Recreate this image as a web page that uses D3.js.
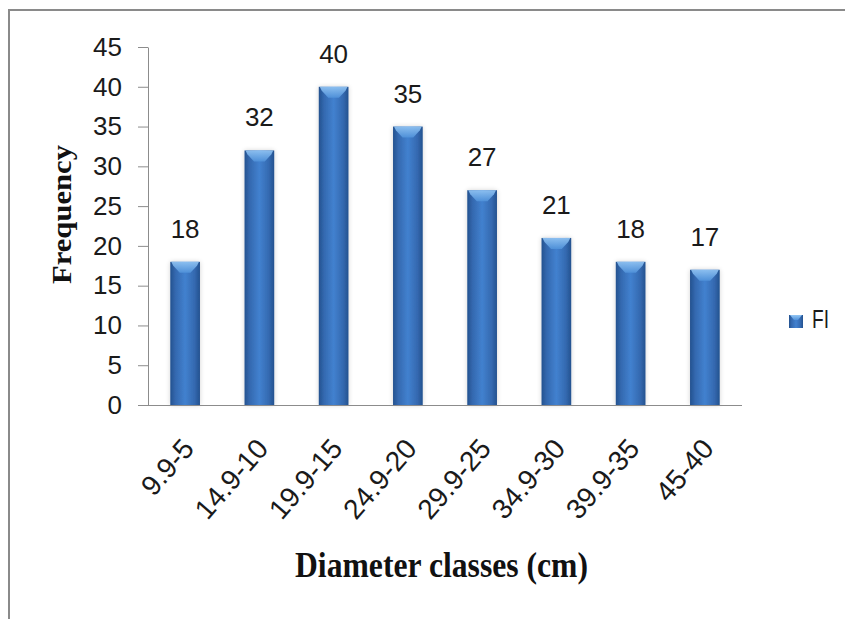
<!DOCTYPE html>
<html>
<head>
<meta charset="utf-8">
<script src="https://cdn.jsdelivr.net/npm/d3@7"></script>
<style>
  html, body { margin: 0; padding: 0; background: #ffffff; }
  svg { display: block; }
</style>
</head>
<body>
<div id="chart"></div>
<script>
// Diameter class frequency data
const categories = ["9.9-5", "14.9-10", "19.9-15", "24.9-20", "29.9-25", "34.9-30", "39.9-35", "45-40"];
const frequency = [18, 32, 40, 35, 27, 21, 18, 17];
const yTicks = [0, 5, 10, 15, 20, 25, 30, 35, 40, 45];
const seriesName = "FI";
const xTitle = "Diameter classes (cm)";
const yTitle = "Frequency";

const W = 845, H = 619;
const plot = { left: 148, right: 742, top: 47, bottom: 405 };

const svg = d3.select("#chart").append("svg")
  .attr("width", W).attr("height", H);

const defs = svg.append("defs");
const grad = defs.append("linearGradient")
  .attr("id", "barFill").attr("x1", "0").attr("x2", "1").attr("y1", "0").attr("y2", "0");
[["0%", "#24528f"], ["18%", "#3469b0"], ["50%", "#4281cf"], ["82%", "#3469b0"], ["100%", "#24528f"]]
  .forEach(([o, c]) => grad.append("stop").attr("offset", o).attr("stop-color", c));

const bevel = defs.append("linearGradient")
  .attr("id", "bevelFill").attr("x1", "0").attr("x2", "0").attr("y1", "0").attr("y2", "1");
bevel.append("stop").attr("offset", "0%").attr("stop-color", "#94c6f4");
bevel.append("stop").attr("offset", "100%").attr("stop-color", "#5092da");

const shadow = defs.append("filter").attr("id", "barShadow")
  .attr("x", "-30%").attr("y", "-10%").attr("width", "160%").attr("height", "120%");
shadow.append("feGaussianBlur").attr("in", "SourceAlpha").attr("stdDeviation", 2.5).attr("result", "b");
shadow.append("feComponentTransfer").attr("in", "b").attr("result", "s")
  .append("feFuncA").attr("type", "linear").attr("slope", 0.18);
const merge = shadow.append("feMerge");
merge.append("feMergeNode").attr("in", "s");
merge.append("feMergeNode").attr("in", "SourceGraphic");

// Outer chart border (right and bottom edges fall outside the view)
svg.append("rect")
  .attr("x", 9).attr("y", 10).attr("width", 900).attr("height", 700)
  .attr("fill", "none").attr("stroke", "#8a8a8a").attr("stroke-width", 2);

const x = d3.scaleBand().domain(categories).range([plot.left, plot.right]).paddingInner(0.6).paddingOuter(0.3);
const y = d3.scaleLinear().domain([0, 45]).range([plot.bottom, plot.top]);

const tickFont = "'Liberation Sans', Arial, sans-serif";

// Y axis
const yAxis = svg.append("g").attr("transform", `translate(${plot.left},0)`)
  .call(d3.axisLeft(y).tickValues(yTicks).tickSize(10).tickPadding(16).tickSizeOuter(0));
yAxis.select(".domain").attr("stroke", "#8c8c8c");
yAxis.selectAll(".tick line").attr("stroke", "#8c8c8c");
yAxis.selectAll(".tick text")
  .attr("font-family", tickFont).attr("font-size", 26).attr("fill", "#1a1a1a");

// Bars
const bars = svg.append("g").selectAll("g.bar")
  .data(categories.map((c, i) => ({ c, v: frequency[i] })))
  .join("g").attr("class", "bar");

bars.append("rect")
  .attr("x", d => x(d.c)).attr("width", x.bandwidth())
  .attr("y", d => y(d.v)).attr("height", d => y(0) - y(d.v))
  .attr("fill", "url(#barFill)").attr("filter", "url(#barShadow)");

// Top bevel highlight
bars.append("path")
  .attr("d", d => {
    const x0 = x(d.c), x1 = x0 + x.bandwidth(), t = y(d.v), bw = x.bandwidth();
    return `M${x0 + 1},${t} L${x1 - 1},${t} L${x1 - 3},${t + 4} L${x0 + bw * 0.68},${t + 11} L${x0 + bw * 0.32},${t + 11} L${x0 + 3},${t + 4} Z`;
  })
  .attr("fill", "url(#bevelFill)").attr("opacity", 0.9);

// Value labels
bars.append("text")
  .attr("x", d => x(d.c) + x.bandwidth() / 2)
  .attr("y", d => y(d.v) - 24)
  .attr("text-anchor", "middle")
  .attr("font-family", tickFont).attr("font-size", 26).attr("fill", "#1a1a1a")
  .text(d => d.v);

// X axis
const xAxis = svg.append("g").attr("transform", `translate(0,${plot.bottom})`)
  .call(d3.axisBottom(x).tickSize(0).tickSizeOuter(0).tickPadding(0));
xAxis.select(".domain").attr("stroke", "#8c8c8c")
  .attr("d", `M${plot.left},0.5H${plot.right}`);
xAxis.selectAll(".tick text")
  .attr("font-family", tickFont).attr("font-size", 28).attr("fill", "#1a1a1a")
  .attr("text-anchor", "end")
  .attr("dy", "0.35em")
  .attr("transform", "translate(3,38) rotate(-49)")
  .attr("x", 0).attr("y", 0);

// Axis titles
svg.append("text")
  .attr("x", 295).attr("y", 577)
  .attr("font-family", "'Liberation Serif', 'Times New Roman', serif")
  .attr("font-weight", "bold").attr("font-size", 36).attr("fill", "#111")
  .attr("textLength", 293).attr("lengthAdjust", "spacingAndGlyphs")
  .text(xTitle);

svg.append("text")
  .attr("transform", "translate(71,284) rotate(-90)")
  .attr("font-family", "'Liberation Serif', 'Times New Roman', serif")
  .attr("font-weight", "bold").attr("font-size", 27).attr("fill", "#111")
  .attr("textLength", 139).attr("lengthAdjust", "spacingAndGlyphs")
  .text(yTitle);

// Legend
const lg = svg.append("g").attr("transform", "translate(789,315)");
lg.append("rect").attr("width", 14).attr("height", 13).attr("fill", "url(#barFill)");
lg.append("path").attr("d", "M1,0 L13,0 L9,5 L5,5 Z").attr("fill", "url(#bevelFill)");
lg.append("text")
  .attr("x", 23).attr("y", 13)
  .attr("font-family", tickFont).attr("font-size", 25).attr("fill", "#1a1a1a")
  .attr("textLength", 17).attr("lengthAdjust", "spacingAndGlyphs")
  .text(seriesName);
</script>
</body>
</html>
